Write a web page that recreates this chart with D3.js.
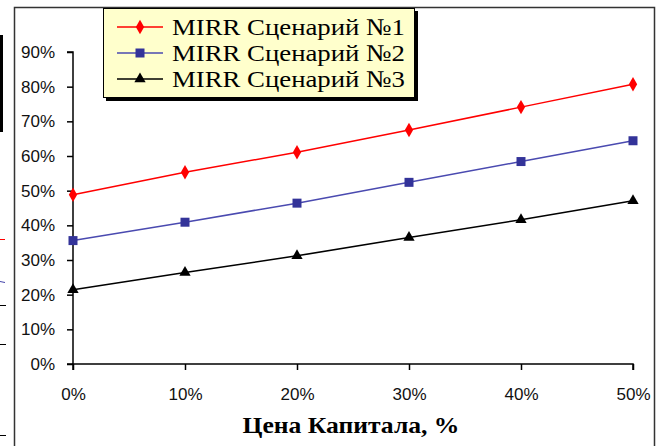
<!DOCTYPE html>
<meta charset="utf-8">
<script src="https://d3js.org/d3.v7.min.js"></script>
<html>
<head>
<style>
body { margin: 0; background: white; }
svg { display: block; }
</style>
</head>
<body>
<div id="chart"></div>
<script>

// data
var capitalCost = [0, 10, 20, 30, 40, 50];
var scenario1 = [48.8, 55.3, 61.1, 67.5, 74.1, 80.7];
var scenario2 = [35.6, 40.9, 46.4, 52.4, 58.4, 64.4];
var scenario3 = [21.4, 26.4, 31.2, 36.5, 41.6, 47.1];
var seriesNames = ["MIRR Сценарий №1", "MIRR Сценарий №2", "MIRR Сценарий №3"];
var yTicks = [0, 10, 20, 30, 40, 50, 60, 70, 80, 90];

var SERIF = '"Liberation Serif"';
var SANS = '"Liberation Sans"';

var W = 662, H = 446;
var margin = {top: 52, right: 29, bottom: 82, left: 73};
var width = W - margin.left - margin.right,
    height = 364 - margin.top;

var svg = d3.select("#chart").append("svg")
  .attr("width", W).attr("height", H);

// leftover pieces of the neighbouring chart at the left edge
svg.append("rect").attr("x", 0).attr("y", 35).attr("width", 3).attr("height", 97).attr("fill", "black");
svg.append("line").attr("x1", 0).attr("x2", 5).attr("y1", 239.5).attr("y2", 239.5).attr("stroke", "red");
svg.append("line").attr("x1", 0).attr("x2", 5).attr("y1", 281.5).attr("y2", 282.5).attr("stroke", "#4444aa");
[305, 344, 435].forEach(function(yy) {
  svg.append("line").attr("x1", 0).attr("x2", 6).attr("y1", yy + 0.5).attr("y2", yy + 0.5).attr("stroke", "black");
});

// outer chart frame
svg.append("path")
  .attr("d", "M14.5,446 V7.5 H654.5 V446")
  .attr("fill", "none").attr("stroke", "#333").attr("stroke-width", 1.5);

var g = svg.append("g")
  .attr("transform", "translate(" + margin.left + "," + margin.top + ")");

var x = d3.scaleLinear().domain([0, 50]).range([0, width]);
var y = d3.scaleLinear().domain([0, 90]).range([height, 0]);

var fmt = function(d) { return d + "%"; };

var yAxis = g.append("g")
  .call(d3.axisLeft(y).tickValues(yTicks).tickFormat(fmt).tickSize(6).tickPadding(12));
var xAxis = g.append("g")
  .attr("transform", "translate(0," + height + ")")
  .call(d3.axisBottom(x).tickValues(capitalCost).tickFormat(fmt).tickSize(6).tickPadding(18));

[xAxis, yAxis].forEach(function(a) {
  a.select(".domain").attr("stroke", "black").attr("stroke-width", 1.5);
  a.selectAll(".tick line").attr("stroke", "black").attr("stroke-width", 1.5);
  a.selectAll("text")
    .attr("fill", "#111")
    .style("font-family", SANS)
    .style("font-size", "17px");
});
yAxis.select(".domain").attr("d", "M-6," + height + "H0V0H-6");
xAxis.select(".domain").attr("d", "M0,6V0H" + width + "V6");

// axis title
svg.append("text")
  .attr("x", margin.left + width / 2 - 2)
  .attr("y", 433)
  .attr("text-anchor", "middle")
  .attr("textLength", 217)
  .attr("lengthAdjust", "spacingAndGlyphs")
  .style("font-family", SERIF)
  .style("font-weight", "bold")
  .style("font-size", "23px")
  .text("Цена Капитала, %");

var series = [
  {name: seriesNames[0], values: scenario1, line: "#ff0000", mark: "#ff0000", symbol: d3.symbolDiamond, size: 60},
  {name: seriesNames[1], values: scenario2, line: "#4a4ab0", mark: "#333399", symbol: d3.symbolSquare, size: 81},
  {name: seriesNames[2], values: scenario3, line: "#000000", mark: "#000000", symbol: d3.symbolTriangle, size: 55}
];

var line = d3.line()
  .x(function(d, i) { return x(capitalCost[i]); })
  .y(function(d) { return y(d); });

series.forEach(function(s) {
  g.append("path")
    .datum(s.values)
    .attr("fill", "none")
    .attr("stroke", s.line)
    .attr("stroke-width", 1.5)
    .attr("d", line);
  g.selectAll(null)
    .data(s.values)
    .enter()
    .append("path")
      .attr("d", d3.symbol().type(s.symbol).size(s.size))
      .attr("transform", function(d, i) { return "translate(" + x(capitalCost[i]) + "," + y(d) + ")"; })
      .attr("fill", s.mark);
});

// legend
var lg = svg.append("g").attr("transform", "translate(103,8)");
lg.append("rect").attr("x", 3).attr("y", 3).attr("width", 312).attr("height", 90).attr("fill", "black");
lg.append("rect").attr("x", 0.5).attr("y", 0.5).attr("width", 311).attr("height", 89)
  .attr("fill", "#ffffcc").attr("stroke", "black").attr("stroke-width", 1);

series.forEach(function(s, i) {
  var cy = 19 + i * 26;
  lg.append("line").attr("x1", 14).attr("x2", 60).attr("y1", cy).attr("y2", cy)
    .attr("stroke", s.line).attr("stroke-width", 1.5);
  lg.append("path")
    .attr("d", d3.symbol().type(s.symbol).size(s.size))
    .attr("transform", "translate(37," + cy + ")")
    .attr("fill", s.mark);
  lg.append("text")
    .attr("x", 69).attr("y", cy + 8)
    .attr("textLength", 233)
    .attr("lengthAdjust", "spacingAndGlyphs")
    .style("font-family", SERIF)
    .style("font-size", "24px")
    .attr("fill", "black")
    .text(s.name);
});

</script>
</body>
</html>
